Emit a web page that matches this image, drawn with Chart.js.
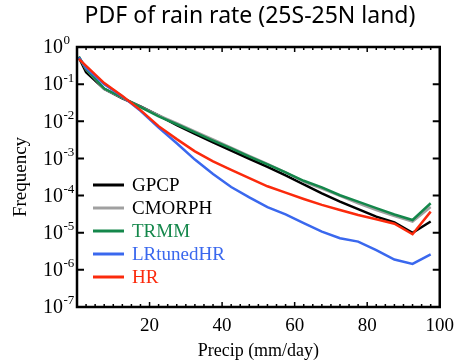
<!DOCTYPE html>
<html>
<head>
<meta charset="utf-8">
<script src="https://cdn.jsdelivr.net/npm/chart.js@4.4.1/dist/chart.umd.min.js"></script>
<style>
  html, body { margin: 0; padding: 0; background: #fff; }
  #wrap { width: 462px; height: 362px; position: relative; }
</style>
</head>
<body>
<div id="wrap"><canvas id="pdfChart" width="462" height="362"></canvas></div>
<script>
// rain rate bins (mm/day)
var precipBins = [0.5, 2.5, 7.5, 12.5, 17.5, 22.5, 27.5, 32.5, 37.5, 42.5, 47.5,
                  52.5, 57.5, 62.5, 67.5, 72.5, 77.5, 82.5, 87.5, 92.5, 97.5];

var gpcp = [0.525, 0.209, 0.0741, 0.0417, 0.0251, 0.0145, 0.0079, 0.00457, 0.00269, 0.00162, 9.8e-4,
            5.9e-4, 3.5e-4, 2.0e-4, 1.15e-4, 6.9e-5, 4.3e-5, 2.7e-5, 1.9e-5, 1.0e-5, 2.0e-5];
var cmorph = [0.55, 0.251, 0.0741, 0.0427, 0.0245, 0.0145, 0.00891, 0.00537, 0.00324, 0.00195, 0.00117,
              7.1e-4, 4.2e-4, 2.34e-4, 1.55e-4, 9.8e-5, 6.2e-5, 4.1e-5, 2.8e-5, 2.0e-5, 4.9e-5];
var trmm = [0.55, 0.257, 0.0759, 0.0437, 0.024, 0.0135, 0.00832, 0.00501, 0.00302, 0.00186, 0.00112,
            6.9e-4, 4.2e-4, 2.5e-4, 1.66e-4, 1.02e-4, 6.9e-5, 4.6e-5, 3.1e-5, 2.2e-5, 6.2e-5];
var lrTunedHR = [0.525, 0.275, 0.1, 0.0468, 0.0191, 0.00676, 0.00257, 9.3e-4, 3.8e-4, 1.7e-4, 8.9e-5,
                 4.9e-5, 3.1e-5, 1.82e-5, 1.07e-5, 7.1e-6, 5.75e-6, 3.4e-6, 1.9e-6, 1.45e-6, 2.6e-6];
var hr = [0.479, 0.309, 0.107, 0.0479, 0.02, 0.0074, 0.00331, 0.00155, 8.3e-4, 4.9e-4, 2.95e-4,
          1.78e-4, 1.2e-4, 8.1e-5, 5.6e-5, 4.1e-5, 3.0e-5, 2.3e-5, 1.74e-5, 9.1e-6, 3.7e-5];

var seriesNames = ['GPCP', 'CMORPH', 'TRMM', 'LRtunedHR', 'HR'];
var xTickValues = [20, 40, 60, 80, 100];
var yDecades = [0, -1, -2, -3, -4, -5, -6, -7];

const SERIF = '"Liberation Serif", "DejaVu Serif", serif';

function toPoints(values){
    return values.map((v, i) => ({x: precipBins[i], y: v}));
}

// frame, inward ticks, y labels with exponents, legend and title
var decorPlugin = {
    id: 'decor',
    afterDraw: function(chart){
        const ctx = chart.ctx;
        const area = chart.chartArea;
        const xs = chart.scales.x;
        const ys = chart.scales.y;
        ctx.save();
        ctx.strokeStyle = '#000';
        ctx.lineWidth = 2.5;
        ctx.strokeRect(area.left, area.top, area.right - area.left, area.bottom - area.top);

        // x ticks (bottom + top)
        ctx.lineWidth = 1.5;
        for(let v = 0; v <= 100; v += 2.5){
            const px = xs.getPixelForValue(v);
            const len = (v % 20 === 0) ? 5 : 3;
            ctx.beginPath();
            ctx.moveTo(px, area.bottom); ctx.lineTo(px, area.bottom - len);
            ctx.moveTo(px, area.top); ctx.lineTo(px, area.top + len);
            ctx.stroke();
        }
        // y ticks (left + right)
        ctx.lineWidth = 2;
        yDecades.forEach(function(e){
            const py = ys.getPixelForValue(Math.pow(10, e));
            ctx.beginPath();
            ctx.moveTo(area.left, py); ctx.lineTo(area.left + 7, py);
            ctx.moveTo(area.right, py); ctx.lineTo(area.right - 7, py);
            ctx.stroke();
        });

        // y labels 10^e
        ctx.fillStyle = '#000';
        ctx.textBaseline = 'middle';
        ctx.textAlign = 'left';
        yDecades.forEach(function(e){
            const py = ys.getPixelForValue(Math.pow(10, e));
            ctx.font = '20px ' + SERIF;
            ctx.fillText('10', 43, py + 1);
            const w = ctx.measureText('10').width;
            ctx.font = '13px ' + SERIF;
            ctx.fillText(e === 0 ? '0' : '-' + Math.abs(e), 43 + w + 0.5, py - 6);
        });

        // legend inside the plot
        ctx.font = '19px ' + SERIF;
        chart.data.datasets.forEach(function(ds, i){
            const ly = 185 + i * 23;
            ctx.strokeStyle = ds.borderColor;
            ctx.lineWidth = 3;
            ctx.beginPath();
            ctx.moveTo(area.left + 16, ly); ctx.lineTo(area.left + 47, ly);
            ctx.stroke();
            ctx.fillStyle = ds.textColor;
            ctx.fillText(ds.label, area.left + 55, ly + 1);
        });

        // title
        ctx.fillStyle = '#000';
        ctx.textAlign = 'center';
        ctx.font = '23px "Noto Sans", "Open Sans", sans-serif';
        ctx.fillText('PDF of rain rate (25S-25N land)', 250, 16);
        ctx.restore();
    }
};

var colors = ['#000000', '#a0a0a0', '#14874b', '#3a68ee', '#fb2a0c'];
var textColors = ['#000000', '#000000', '#14874b', '#3a68ee', '#fb2a0c'];
var seriesValues = [gpcp, cmorph, trmm, lrTunedHR, hr];

var pdfChart = new Chart(document.getElementById('pdfChart'), {
    type: 'line',
    data: {
        datasets: seriesNames.map(function(name, i){
            return {
                label: name,
                data: toPoints(seriesValues[i]),
                borderColor: colors[i],
                textColor: textColors[i],
                borderWidth: 2.5,
                pointRadius: 0,
                fill: false,
                tension: 0,
                order: seriesNames.length - i
            };
        })
    },
    options: {
        responsive: false,
        animation: false,
        layout: { padding: { left: 0, top: 47, right: 19, bottom: 0 } },
        plugins: {
            legend: { display: false },
            tooltip: { enabled: false }
        },
        scales: {
            x: {
                type: 'linear',
                min: 0,
                max: 100,
                grid: { display: false, drawTicks: false },
                border: { display: false },
                ticks: {
                    stepSize: 20,
                    padding: 8,
                    color: '#000',
                    font: { family: SERIF, size: 19 },
                    callback: function(v){ return xTickValues.indexOf(v) >= 0 ? String(v) : ''; }
                },
                title: {
                    display: true,
                    text: 'Precip (mm/day)',
                    color: '#000',
                    font: { family: SERIF, size: 18 },
                    padding: { top: 0, bottom: 0 }
                },
                afterFit: function(scale){ scale.height = 362 - 307; }
            },
            y: {
                type: 'logarithmic',
                min: 1e-7,
                max: 1,
                grid: { display: false, drawTicks: false },
                border: { display: false },
                ticks: { display: false },
                title: {
                    display: true,
                    text: 'Frequency',
                    color: '#000',
                    font: { family: SERIF, size: 19 },
                    padding: { top: 10, bottom: 0 }
                },
                afterFit: function(scale){ scale.width = 77; }
            }
        }
    },
    plugins: [decorPlugin]
});
</script>
</body>
</html>
